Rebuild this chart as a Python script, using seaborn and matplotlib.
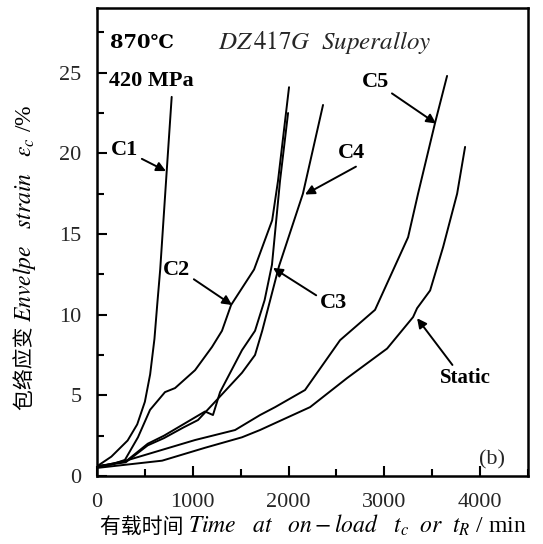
import pandas as pd
import seaborn as sns
import matplotlib.pyplot as plt
from matplotlib.ticker import MultipleLocator

# curves: time on load (min) vs envelope strain (%)
c1_t = [0, 150, 320, 420, 500, 555, 600, 630, 660, 728, 780]
c1_e = [0.6, 1.2, 2.2, 3.2, 4.6, 6.3, 8.5, 10.7, 12.8, 18.9, 23.5]

c2_t = [0, 150, 292, 428, 554, 710, 815, 1024, 1201, 1305, 1400, 1640, 1829, 1890, 2005]
c2_e = [0.6, 0.7, 1.0, 2.4, 4.1, 5.2, 5.45, 6.56, 8.0, 9.0, 10.6, 12.8, 15.85, 18.3, 24.1]

c3_t = [0, 300, 530, 700, 900, 1128, 1211, 1285, 1514, 1650, 1750, 1827, 1911, 1995]
c3_e = [0.6, 0.9, 2.0, 2.5, 3.2, 4.0, 3.78, 5.2, 7.8, 9.0, 10.9, 13.1, 18.3, 22.5]

c4_t = [0, 300, 530, 700, 900, 1055, 1233, 1514, 1650, 1725, 1900, 2150, 2360]
c4_e = [0.6, 0.85, 1.9, 2.35, 3.0, 3.47, 4.6, 6.4, 7.5, 9.0, 13.0, 17.5, 23.0]

c5_t = [0, 324, 1024, 1442, 1703, 1860, 2172, 2538, 2903, 3248, 3352, 3530, 3655]
c5_e = [0.55, 0.99, 2.23, 2.85, 3.78, 4.27, 5.33, 8.42, 10.3, 14.8, 17.5, 21.9, 24.8]

st_t = [0, 680, 1128, 1514, 1702, 1860, 2225, 2611, 3029, 3300, 3342, 3478, 3614, 3760, 3843]
st_e = [0.5, 0.95, 1.75, 2.4, 2.85, 3.28, 4.27, 6.07, 7.9, 9.85, 10.4, 11.5, 14.2, 17.5, 20.4]

curves = {'C1': (c1_t, c1_e), 'C2': (c2_t, c2_e), 'C3': (c3_t, c3_e),
          'C4': (c4_t, c4_e), 'C5': (c5_t, c5_e), 'Static': (st_t, st_e)}

rows = []
for name, (t, e) in curves.items():
    for ti, ei in zip(t, e):
        rows.append((name, ti, ei))
df = pd.DataFrame(rows, columns=['Curve', 'Time', 'Strain'])

sns.set_style('ticks')
plt.rcParams['font.family'] = ['Liberation Serif', 'DejaVu Serif']
plt.rcParams['mathtext.fontset'] = 'stix'

fig = plt.figure(figsize=(5.43, 5.44), dpi=100)
ax = fig.add_axes([0.1786, 0.125, 0.7938, 0.860])

sns.lineplot(data=df, x='Time', y='Strain', units='Curve', estimator=None,
             sort=False, color='black', lw=1.4, ax=ax)

ax.set_xlim(0, 4500)
ax.set_ylim(0, 29)
ax.xaxis.set_major_locator(MultipleLocator(1000))
ax.xaxis.set_minor_locator(MultipleLocator(500))
ax.yaxis.set_major_locator(MultipleLocator(5))
ax.yaxis.set_minor_locator(MultipleLocator(2.5))
ax.tick_params(which='both', direction='in', width=1.5, color='black',
               top=False, right=False)
ax.tick_params(which='major', length=7, labelsize=16)
ax.tick_params(axis='x', which='major', pad=12)
ax.tick_params(axis='y', which='major', pad=11)
ax.tick_params(which='minor', length=5)
ax.set_xlabel('')
ax.set_ylabel('')
for s in ax.spines.values():
    s.set_visible(True)
    s.set_linewidth(1.8)
    s.set_color('black')

# annotations
bold = dict(fontsize=16, fontweight='bold', color='black')
arrow = dict(arrowstyle='-|>', color='black', lw=1.4, mutation_scale=14,
             shrinkA=0, shrinkB=0)

ax.text(136, 26.85, '870℃', ha='left', va='center',
        family=['DejaVu Serif', 'Liberation Serif'], fontsize=14,
        fontweight='bold', color='black')
ax.text(125, 24.5, '420 MPa', ha='left', va='center', **bold)
ax.text(2381, 26.85, r'$\mathit{DZ\,417G}$  $\mathit{Superalloy}$', ha='center',
        va='center', fontsize=18)

ax.annotate('C1', xy=(720, 18.9), xytext=(292, 20.2), ha='center', va='center',
            arrowprops={**arrow, 'relpos': (0.85, 0.25)}, **bold)
ax.annotate('C2', xy=(1410, 10.6), xytext=(835, 12.75), ha='center', va='center',
            arrowprops={**arrow, 'relpos': (0.85, 0.3)}, **bold)
ax.annotate('C3', xy=(1838, 12.9), xytext=(2465, 10.7), ha='center', va='center',
            arrowprops={**arrow, 'relpos': (0.0, 0.8)}, **bold)
ax.annotate('C4', xy=(2172, 17.45), xytext=(2653, 20.0), ha='center', va='center',
            arrowprops={**arrow, 'relpos': (0.9, 0.0)}, **bold)
ax.annotate('C5', xy=(3540, 21.85), xytext=(2903, 24.4), ha='center', va='center',
            arrowprops={**arrow, 'relpos': (0.85, 0.2)}, **bold)
ax.annotate('Static', xy=(3342, 9.78), xytext=(3843, 6.06), ha='center', va='center',
            arrowprops={**arrow, 'relpos': (0.3, 1.0)}, fontsize=15,
            fontweight='bold', color='black')
ax.text(4125, 1.0, '(b)', ha='center', va='center', fontsize=16)

# axis titles: Chinese part + italic serif part, chained along the baseline
cjk = dict(family='Noto Sans CJK SC', fontsize=15, color='black')
lat = dict(fontsize=17, color='black')

fig.canvas.draw()
r = fig.canvas.get_renderer()
W, H = fig.bbox.width, fig.bbox.height

xl1 = fig.text(100 / W, 1 - 533 / H, '有载时间 ', ha='left', va='baseline', **cjk)
ext = xl1.get_window_extent(r)
fig.text(ext.x1 / W, 1 - 533 / H,
         r'$\mathit{Time\ \ \ at\ \ \ on-load\ \ \ t_c\ \ or\ \ t_R}$ / min',
         ha='left', va='baseline', **lat)

yl1 = fig.text(31 / W, 1 - 410 / H, '包络应变 ', ha='left', va='baseline',
               rotation=90, rotation_mode='anchor', **cjk)
ext = yl1.get_window_extent(r)
fig.text(31 / W, ext.y1 / H,
         r'$\mathit{Envelpe\ \ \ strain\ \ \ \varepsilon_c}$ /%',
         ha='left', va='baseline', rotation=90, rotation_mode='anchor', **lat)

fig.savefig('out.png', dpi=100)
